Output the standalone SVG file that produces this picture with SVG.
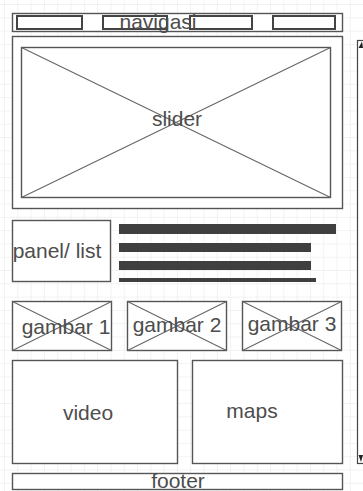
<svg xmlns="http://www.w3.org/2000/svg" width="363" height="491" viewBox="0 0 363 491">
<defs>
<pattern id="grid" x="5" y="5" width="13.3" height="13.3" patternUnits="userSpaceOnUse">
<path d="M13.3 0 V13.3 M0 13.3 H13.3" fill="none" stroke="#e6e6e6" stroke-width="1"/>
</pattern>
<style>
.box{fill:#fff;stroke:#555;stroke-width:1.4}
.thin{fill:none;stroke:#666;stroke-width:1.1}
.nav{fill:none;stroke:#444;stroke-width:2}
.bar{fill:#3f3f3f}
.t{font-family:"Liberation Sans",Arial,sans-serif;font-size:21px;fill:#4d4d4d;text-anchor:middle}
</style>
</defs>
<rect width="363" height="491" fill="#fff"/>
<rect width="363" height="491" fill="url(#grid)"/>

<g id="navigasi">
<rect class="box" x="12.5" y="13.5" width="330" height="18"/>
<rect class="nav" x="17" y="16" width="65" height="13"/>
<rect class="nav" x="103" y="16" width="64" height="13"/>
<rect class="nav" x="190" y="16" width="62" height="13"/>
<rect class="nav" x="273" y="16" width="62" height="13"/>
<text class="t" x="158" y="29">navigasi</text>
</g>

<g id="slider">
<rect class="box" x="12.5" y="36.5" width="330" height="172"/>
<rect class="box" x="21.5" y="47.5" width="309" height="150"/>
<path class="thin" d="M21.5 47.5 L330.5 197.5 M330.5 47.5 L21.5 197.5"/>
<text class="t" x="177" y="126">slider</text>
</g>

<g id="panel">
<rect class="box" x="12.5" y="220.5" width="98" height="61"/>
<text class="t" x="57" y="258">panel/ list</text>
</g>

<g id="list">
<rect class="bar" x="119" y="224" width="217" height="10"/>
<rect class="bar" x="119" y="243" width="192" height="9"/>
<rect class="bar" x="119" y="261" width="192" height="9"/>
<rect class="bar" x="119" y="278" width="197" height="4"/>
</g>

<g id="gambar1">
<rect class="box" x="12.5" y="301.5" width="99" height="49"/>
<path class="thin" d="M12.5 301.5 L111.5 350.5 M111.5 301.5 L12.5 350.5"/>
<text class="t" x="66" y="334">gambar 1</text>
</g>
<g id="gambar2">
<rect class="box" x="127.5" y="301.5" width="99" height="49"/>
<path class="thin" d="M127.5 301.5 L226.5 350.5 M226.5 301.5 L127.5 350.5"/>
<text class="t" x="177" y="332">gambar 2</text>
</g>
<g id="gambar3">
<rect class="box" x="242.5" y="301.5" width="99" height="49"/>
<path class="thin" d="M242.5 301.5 L341.5 350.5 M341.5 301.5 L242.5 350.5"/>
<text class="t" x="292" y="331">gambar 3</text>
</g>

<g id="video">
<rect class="box" x="12.5" y="360.5" width="165" height="103"/>
<text class="t" x="88" y="420">video</text>
</g>
<g id="maps">
<rect class="box" x="192.5" y="360.5" width="150" height="103"/>
<text class="t" x="252" y="418">maps</text>
</g>

<g id="footer">
<rect class="box" x="12.5" y="473.5" width="330" height="16"/>
<text class="t" x="178" y="488">footer</text>
</g>

<g id="scrollbar">
<rect x="357.5" y="40.5" width="10" height="423" fill="#fff" stroke="#444" stroke-width="1.2"/>
<path d="M358.5 48 L362 41.5 L363 48 Z" fill="#222"/>
<path d="M358.5 455 L363 455 L361 462 Z" fill="#222"/>
</g>
<g id="connectors"/>
</svg>
